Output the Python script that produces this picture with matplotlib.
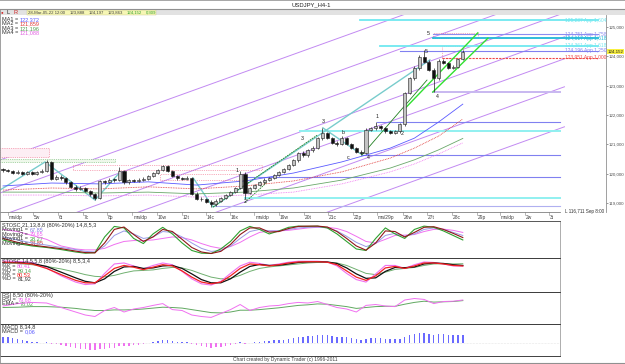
import matplotlib
matplotlib.use("Agg")
import matplotlib.pyplot as plt
import matplotlib.transforms as mtrans
from matplotlib.patches import Rectangle
from matplotlib.lines import Line2D
import numpy as np

plt.rcParams['font.family'] = ['Liberation Sans Narrow', 'Liberation Sans', 'DejaVu Sans']

# ---------------- data ----------------
O = [120.15,120.12,120.08,120.02,120.06,120.00,120.04,119.98,120.05,120.10,
     120.38,119.82,119.90,119.85,119.70,119.55,119.48,119.52,119.40,119.30,
     119.18,119.75,119.72,119.80,119.78,120.08,119.70,119.78,119.75,119.80,
     119.82,119.92,120.02,120.12,120.25,120.08,119.92,119.85,119.82,119.86,
     119.32,119.15,119.12,119.05,118.95,119.08,119.18,119.28,119.38,119.50,
     120.00,119.35,119.52,119.62,119.70,119.80,119.86,119.95,120.05,120.15,
     120.30,120.45,120.70,120.62,120.80,120.88,121.20,121.38,121.22,121.05,
     121.00,121.22,121.02,120.88,120.75,120.70,121.50,121.55,121.62,121.55,
     121.45,121.40,121.45,121.68,122.75,123.25,123.60,123.98,123.82,123.55,
     123.25,123.85,123.78,123.60,123.65,123.90]
C = [120.12,120.08,120.02,120.06,120.00,120.04,119.98,120.05,120.10,120.38,
     119.82,119.90,119.85,119.70,119.55,119.48,119.52,119.40,119.30,119.18,
     119.75,119.72,119.80,119.78,120.08,119.70,119.78,119.75,119.80,119.82,
     119.92,120.02,120.12,120.25,120.08,119.92,119.85,119.82,119.86,119.32,
     119.15,119.12,119.05,118.95,119.08,119.18,119.28,119.38,119.50,120.00,
     119.35,119.52,119.62,119.70,119.80,119.86,119.95,120.05,120.15,120.30,
     120.45,120.70,120.62,120.80,120.88,121.20,121.38,121.22,121.05,121.00,
     121.22,121.02,120.88,120.75,120.70,121.50,121.55,121.62,121.55,121.45,
     121.40,121.45,121.68,122.75,123.25,123.60,123.98,123.82,123.55,123.25,
     123.85,123.78,123.60,123.65,123.90,124.15]
Hi = [120.20,120.16,120.12,120.12,120.10,120.08,120.08,120.10,120.16,120.47,
      120.42,119.96,119.95,119.88,119.74,119.60,119.58,119.56,119.44,119.34,
      119.80,119.80,119.84,119.86,120.22,120.12,119.82,119.82,119.84,119.88,
      119.96,120.06,120.16,120.30,120.28,120.12,119.96,119.90,119.92,119.90,
      119.36,119.20,119.16,119.10,119.12,119.22,119.32,119.42,119.56,120.08,
      120.04,119.56,119.66,119.74,119.84,119.90,119.99,120.09,120.19,120.34,
      120.50,120.75,120.76,120.85,120.94,121.25,121.55,121.42,121.26,121.10,
      121.28,121.26,121.06,120.92,120.80,121.55,121.60,121.75,121.66,121.58,
      121.50,121.50,121.72,122.80,123.30,123.66,124.05,124.22,123.86,123.60,
      123.90,123.92,123.82,123.70,123.95,124.20]
Lo = [120.07,120.04,119.98,119.99,119.96,119.97,119.94,119.95,120.02,120.06,
      119.78,119.78,119.80,119.64,119.50,119.42,119.44,119.36,119.24,119.10,
      119.14,119.66,119.68,119.72,119.74,119.64,119.66,119.70,119.72,119.76,
      119.78,119.88,119.98,120.08,120.04,119.88,119.80,119.78,119.78,119.28,
      119.10,119.06,119.00,118.86,118.90,119.04,119.14,119.24,119.34,119.46,
      119.12,119.30,119.48,119.58,119.66,119.76,119.82,119.91,120.01,120.11,
      120.26,120.40,120.58,120.58,120.75,120.84,121.15,121.18,121.00,120.95,
      120.96,120.98,120.84,120.70,120.62,120.66,121.45,121.50,121.50,121.40,
      121.36,121.36,121.40,121.64,122.70,123.20,123.55,123.78,123.50,122.78,
      123.20,123.74,123.56,123.56,123.60,123.86]

# moving averages (sampled at bars)
ma_bars = [0, 10, 20, 30, 40, 50, 60, 70, 80, 85, 90, 95]
ma1 = [119.58,119.68,119.65,119.72,119.61,119.75,120.02,120.40,120.87,121.21,121.76,122.37]
ma2 = [119.44,119.51,119.48,119.55,119.48,119.58,119.75,120.06,120.53,120.87,121.28,121.86]
ma3 = [119.37,119.37,119.34,119.37,119.31,119.37,119.51,119.78,120.19,120.47,120.81,121.20]
ma4 = [119.27,119.27,119.24,119.27,119.20,119.27,119.37,119.65,120.06,120.33,120.67,121.05]

# parallel channel lines: price at bar -1 and at bar 116
chan_p0 = [120.443,119.318,118.534,117.716,116.965,116.011,114.647]
chan_p1 = [127.393,126.268,125.484,124.666,123.916,122.961,121.597]

# projection levels
proj_price = [125.237, 124.751, 124.617, 124.361, 124.196, 123.951]
proj_start = [73.8, 88.8, 88.8, 77.9, 82.0, 90.7]
proj_label = ["125,237 App 1,604", "124,751 App 1,758", "124,617 App 1,618",
              "124,361 App 1,618", "124,196 App 1,250", "123,951 App 1,000"]
proj_color = ["#70e8f0", "#8c8cf0", "#20b8d8", "#70e8f0", "#8080f0", "#f04848"]

# support levels
lvl_price = [122.78, 121.76, 121.45, 120.64, 119.89, 119.17, 118.90]
lvl_start = [88.8, 77.3, 61.4, 74.2, 50.0, 50.0, 43.4]
lvl_color = ["#c8b8f0", "#8080f0", "#90f0f0", "#8080f0", "#8080f0", "#90f0f0", "#b0b0f0"]

# swing labels
sw_bar = [48.3, 50.0, 61.8, 66.1, 70.2, 71.3, 75.4, 77.3, 82.4, 87.8, 87.4, 89.7]
sw_price = [120.10, 119.06, 121.20, 121.78, 121.40, 120.56, 120.56, 121.95, 121.36, 124.78, 124.17, 122.62]
sw_text = ["1", "2", "3", "3", "b", "c", "4", "1", "2", "5", "5", "4"]

# date axis
date_pos = [1.0, 6.2, 11.4, 16.5, 21.5, 26.7, 31.8, 37.0, 41.9, 46.9, 51.9, 57.0,
            62.2, 67.1, 72.3, 77.3, 82.6, 87.6, 92.8, 97.9, 102.7, 107.9, 112.8]
date_lab = ["ma/dp", "5w", "6t", "7c", "8p", "ma/dp", "10w", "12t", "14c", "16x", "ma/dp",
            "19w", "20t", "21c", "22p", "ma/29p", "26w", "27t", "28c", "29p", "ma/dp", "2w", "3t"]

price_ticks = [119, 120, 121, 122, 123, 124, 125]

# toolbar fields
bar_fields = ["28-Mar-05-22 12:00", "123,888", "124,197", "123,863", "124,152", "0,309"]

# oscillators sampled at bars
s_bars = [0,3,6,9,12,15,17,19,21,23,25,27,29,31,33,35,37,39,41,43,45,47,49,51,53,
          55,57,59,61,63,65,67,69,71,73,75,77,79,81,83,85,87,89,91,93,95]
st_green = [50,38,30,25,18,10, 6,8,60,95,90,55,38,70,92,70,40,15,6,5,
            20,45,80,95,85,70,80,92,96,95, 96,90,70,45,20,15,55,90,70,55, 85,96,92,80,65,50]
st_red = [55,42,33,27,21,13, 8,7,40,85,93,68,45,60,85,78,52,25,10,5,
          12,35,68,90,90,76,78,88,95,96, 96,93,78,55,30,16,40,80,78,60, 75,92,94,85,72,58]
st_lav = [60,50,40,33,25,18, 12,10,30,65,80,70,55,60,78,75,60,40,22,12,
          15,30,55,78,85,80,80,85,90,92, 93,90,80,62,42,28,38,65,72,62, 70,85,90,85,75,65]
st_mag = [85,78,65,52,30,20, 17,17,22,35,45,48,48,50,55,60,58,50,38,28,
          22,28,42,60,75,80,80,82,86,90, 92,92,88,78,62,45,40,52,65,66, 68,78,85,86,82,75]

k_red = [95,93,88,70,45,22, 12,12,40,70,82,75,65,75,85,80,60,35,15,8,
         15,40,70,88,85,80,85,92,96,97, 97,95,85,60,35,22,40,72,78,70, 80,92,92,88,82,80]
d_blk = [92,94,90,78,55,32, 18,12,28,58,76,78,70,72,80,82,70,48,25,12,
         12,28,55,78,86,82,83,88,94,96, 97,96,90,72,48,30,32,58,74,73, 76,88,92,90,85,82]
k_pink = [100,98,95,72,40,15, 5,8,50,88,92,80,68,82,92,85,58,28,8,3,
          18,50,80,95,90,82,88,95,99,99, 99,96,80,50,25,15,48,82,82,70, 85,96,94,88,80,80]
d_grn = [95,90,85,78,68,55, 45,38,36,42,52,60,62,64,70,74,72,62,48,35,
         28,30,42,58,70,76,80,84,88,92, 94,95,92,82,66,50,45,55,66,70, 74,82,88,89,88,89]

rsi = [60,68,72,70,55,40, 30,25,45,55,40,50,55,62,68,48,45,30,25,22,
       35,48,65,45,55,60,62,68,72,70, 75,65,55,50,40,62,65,60,58,80, 85,82,68,75,76,80]
rsi_ema = [55,56,58,58,56,52, 48,45,45,47,47,48,50,53,56,55,53,48,43,38,
           37,40,46,46,48,51,54,58,62,64, 67,66,62,58,52,55,58,59,59,66, 72,76,73,74,75,78]

macd = [0.45,0.40,0.35,0.30,0.22,0.15,0.10,0.05,0.02,0.05,
        -0.05,-0.10,-0.15,-0.20,-0.28,-0.35,-0.40,-0.45,-0.50,-0.52,
        -0.45,-0.42,-0.38,-0.35,-0.20,-0.25,-0.22,-0.18,-0.12,-0.05,
        0.02,0.08,0.15,0.22,0.20,0.15,0.10,0.08,0.05,-0.08,
        -0.18,-0.25,-0.30,-0.35,-0.32,-0.28,-0.22,-0.15,-0.08,0.05,
        -0.05,0.00,0.05,0.08,0.12,0.15,0.18,0.22,0.25,0.30,
        0.35,0.42,0.45,0.48,0.50,0.55,0.58,0.55,0.50,0.45,
        0.45,0.40,0.35,0.28,0.22,0.30,0.33,0.35,0.33,0.30,
        0.28,0.28,0.32,0.45,0.55,0.62,0.70,0.72,0.68,0.60,
        0.65,0.63,0.58,0.55,0.56,0.60]

# ---------------- figure ----------------
W, H = 625, 364
FS = 4.0
fig = plt.figure(figsize=(W / 100, H / 100), dpi=100)
fig.patch.set_facecolor("white")


def add_ax(x0, y0, x1, y1):
    return fig.add_axes([x0 / W, 1 - y1 / H, (x1 - x0) / W, (y1 - y0) / H])


def ftext(x, y, s, **kw):
    kw.setdefault("fontsize", FS)
    kw.setdefault("va", "center")
    kw.setdefault("ha", "left")
    return fig.text(x / W, 1 - y / H, s, **kw)


def fline(x0, y0, x1, y1, **kw):
    fig.add_artist(Line2D([x0 / W, x1 / W], [1 - y0 / H, 1 - y1 / H],
                          transform=fig.transFigure, **kw))


def frect(x0, y0, x1, y1, **kw):
    fig.add_artist(Rectangle((x0 / W, 1 - y1 / H), (x1 - x0) / W, (y1 - y0) / H,
                             transform=fig.transFigure, **kw))


X0 = -3 / 4.84
ax = add_ax(0, 15, 606, 212)


def after(t, s, color, gap=1.5, fs=FS):
    return ax.annotate(s, xy=(1, 0.5), xycoords=t, xytext=(gap, 0), textcoords="offset pixels",
                       fontsize=fs, color=color, va="center", ha="left", annotation_clip=False)


# title bar / toolbar
frect(0, 0, 625, 1.3, fc="#a8a8a8", ec="none")
ftext(311, 5.0, "USDJPY_H4-1", ha="center", color="#202020", fontsize=4.2)
fline(0, 9.3, 625, 9.3, color="#909090", lw=0.8)
frect(0, 9.8, 625, 15.2, fc="#e2e2e2", ec="none")
ftext(0.8, 12.5, "\u25cf", color="#d02020", fontsize=3.2)
ftext(6.5, 12.5, "L", color="#202020")
ftext(13.5, 12.5, "R", color="#d02020")
frect(27, 10.2, 156, 14.8, fc="#f6f6b4", ec="#c8c890", lw=0.3)
field_x = [28.5, 70, 89, 108, 127, 146]
field_cols = ["#404040", "#404040", "#404040", "#404040", "#30a030", "#30a030"]
for xx, s, col in zip(field_x, bar_fields, field_cols):
    ftext(xx, 12.5, s, color=col, fontsize=3.1)

# ---------------- main panel ----------------
ax.set_xlim(X0, (606 - 3) / 4.84)
ax.set_ylim(118.692, 125.409)
for s in ["top", "left", "bottom"]:
    ax.spines[s].set_visible(False)
ax.spines["right"].set_color("#909090")
ax.spines["right"].set_linewidth(0.6)
ax.set_xticks([])
ax.yaxis.tick_right()
ax.set_yticks(price_ticks)
ax.set_yticklabels(["%d,000" % p for p in price_ticks])
ax.tick_params(axis="y", labelsize=3.2, colors="#505050", length=1.2, width=0.4, pad=0.5)
bl = mtrans.blended_transform_factory(ax.transData, ax.transAxes)

# channel lines
for p0, p1 in zip(chan_p0, chan_p1):
    ax.plot([-1, 116], [p0, p1], color="#c28af2", lw=0.7, zorder=1)

# dashed boxes
ax.add_patch(Rectangle((X0, 120.57), 9.5 - X0, 0.30, fc="#fdeef4", ec="#f06080", lw=0.5, ls=":", zorder=1))
ax.add_patch(Rectangle((X0, 120.40), 23.1 - X0, 0.10, fc="#eef8ea", ec="#60b060", lw=0.5, ls=":", zorder=1))
ax.add_patch(Rectangle((14.5, 120.12), 39.0, 0.17, fc="none", ec="#f06080", lw=0.5, ls=":", zorder=1))
ax.add_patch(Rectangle((32.4, 119.78), 17.6, 0.21, fc="none", ec="#f06080", lw=0.5, ls=":", zorder=1))
ax.add_patch(Rectangle((88.8, 124.64), 9.3, 0.17, fc="none", ec="#f06080", lw=0.5, ls=":", zorder=1))
ax.add_patch(Rectangle((90.7, 123.93), 4.3, 0.41, fc="none", ec="#f06080", lw=0.5, ls=":", zorder=1))

# support levels
for p, b0, col in zip(lvl_price, lvl_start, lvl_color):
    lw = 1.4 if col in ("#c8b8f0", "#90f0f0") else 0.8
    ax.plot([b0, 115.1], [p, p], color=col, lw=lw, zorder=1.5)

# projection levels
for p, b0, lab, col in zip(proj_price, proj_start, proj_label, proj_color):
    ls = (0, (2, 1)) if col == "#f04848" else "-"
    lw = 1.3 if col in ("#70e8f0", "#20b8d8") else 0.8
    ax.plot([b0, 122.9], [p, p], color=col, lw=lw, ls=ls, zorder=1.5)
    ax.text(116.2, p, lab, fontsize=3.5, color=col, va="center", ha="left", zorder=3)

# zigzag (teal)
ax.plot([X0, 8.7, 19.0, 23.8], [119.44, 120.40, 119.10, 119.98], color="#78cccc", lw=1.0, zorder=2)
ax.plot([39.3, 43.4, 88.2], [119.85, 118.86, 123.88], color="#78cccc", lw=1.0, zorder=2)
ax.plot([66.1, 74.2], [121.56, 120.64], color="#78cccc", lw=1.0, zorder=2)
# green trend lines
ax.plot([88.8, 100.2], [122.78, 124.62], color="#30e030", lw=1.0, zorder=2)
ax.plot([83.1, 98.1], [122.23, 124.80], color="#30e030", lw=1.0, zorder=2)
ax.plot([74.2, 87.6], [120.64, 123.19], color="#208020", lw=0.6, zorder=2)
ax.plot([43.4, 64.9], [118.86, 121.31], color="#208020", lw=0.6, ls=(0, (2, 1)), zorder=2)
ax.plot([50.0, 54.5], [119.02, 119.70], color="#208020", lw=0.6, ls=(0, (2, 1)), zorder=2)

# moving averages
ax.plot(ma_bars, ma1, color="#5a5aff", lw=0.6, zorder=2)
ax.plot(ma_bars, ma2, color="#e03838", lw=0.6, ls=(0, (1, 1)), zorder=2)
ax.plot(ma_bars, ma3, color="#6aa86a", lw=0.6, zorder=2)
ax.plot(ma_bars, ma4, color="#f078f0", lw=0.6, ls=(0, (1, 1)), zorder=2)

# candles
xb = np.arange(len(C))
Oa, Ca = np.array(O), np.array(C)
ax.vlines(xb, Lo, Hi, color="#202020", lw=0.5, zorder=4)
body = Ca - Oa
body = np.where(np.abs(body) < 0.02, 0.02, body)
cols = np.where(Ca >= Oa, "#c4c4c4", "#101010")
ax.bar(xb, body, bottom=Oa, width=0.62, color=cols, edgecolor="#202020", linewidth=0.4, zorder=5)

# swing labels
for b, p, t in zip(sw_bar, sw_price, sw_text):
    ax.text(b, p, t, fontsize=3.8, color="#202020", ha="center", va="center", zorder=6)

# last price box
blr = mtrans.blended_transform_factory(ax.transAxes, ax.transData)
ax.text(1.0025, C[-1], "124,152", transform=blr, fontsize=3.2, color="#202020", va="center",
        ha="left", bbox=dict(boxstyle="square,pad=0.1", fc="#f8f040", ec="none"), zorder=7)

# date axis
ax.plot([X0, 115.1], [0, 0], transform=bl, color="#808080", lw=0.6, clip_on=False)
for pos, lab in zip(date_pos, date_lab):
    ax.plot([pos, pos], [0, -0.015], transform=bl, color="#808080", lw=0.4, clip_on=False)
    ax.annotate(lab, xy=(pos, 0), xycoords=bl, xytext=(1, -5), textcoords="offset pixels",
                fontsize=3.5, color="#404040", ha="left", va="center", annotation_clip=False)
ftext(565, 211.5, "L 116,711 Sep 8:00", color="#303030", fontsize=3.3)

# MA labels
for yy, name, val, col in [(19.3, "MA1 =", "122,372", "#5a5aff"), (23.8, "MA2 =", "121,859", "#e03838"),
                           (28.3, "MA3 =", "121,196", "#50a050"), (32.8, "MA4 =", "121,088", "#e060e0")]:
    t = ftext(2, yy, name, color="#303030")
    after(t, val, col)


# ---------------- indicator panels ----------------
def panel(y0, y1, ylim):
    a = add_ax(0, y0, 560, y1)
    a.set_xlim(X0, (560 - 3) / 4.84)
    a.set_ylim(*ylim)
    a.set_xticks([])
    a.set_yticks([])
    for s in ["top", "bottom"]:
        a.spines[s].set_color("#404040")
        a.spines[s].set_linewidth(0.7)
    for s in ["left", "right"]:
        a.spines[s].set_color("#a0a0a0")
        a.spines[s].set_linewidth(0.6)
    a.patch.set_alpha(0)
    return a


a1 = panel(221, 258, (-10, 113))
a1.plot(s_bars, st_mag, color="#f070f0", lw=0.7)
a1.plot(s_bars, st_lav, color="#9a9ae6", lw=0.7)
a1.plot(s_bars, st_green, color="#30a030", lw=0.8)
a1.plot(s_bars, st_red, color="#901818", lw=0.8)
ftext(2, 225, "STOSC 21,13,8,8 (80%-20%) 14,8,5,3", color="#303030")
for yy, name, val, col in [(229.5, "Moving1 =", "67,85", "#8080e0"), (234, "Moving2 =", "79,65", "#f060f0"),
                           (238.5, "Moving1 =", "28,27", "#30a030"), (243, "Moving2 =", "34,85", "#c03030")]:
    t = ftext(2, yy, name, color="#303030")
    after(t, val, col)

a2 = panel(258, 292, (-25, 112))
a2.plot(s_bars, d_grn, color="#70b070", lw=0.7)
a2.plot(s_bars, k_pink, color="#f070f0", lw=0.8)
a2.plot(s_bars, d_blk, color="#101010", lw=0.9)
a2.plot(s_bars, k_red, color="#f02020", lw=0.9)
ftext(2, 261.5, "STOSC 14,5,5,8 (80%-20%) 8,5,3,4", color="#303030")
for yy, name, val, col in [(266, "%K =", "80,41", "#f060f0"), (270.3, "%D =", "89,14", "#50a050"),
                           (274.6, "%K =", "80,53", "#f02020"), (278.9, "%D =", "81,92", "#303030")]:
    t = ftext(2, yy, name, color="#303030")
    after(t, val, col)

a3 = panel(292, 324, (0, 106.7))
a3.plot(s_bars, rsi_ema, color="#60a860", lw=0.7)
a3.plot(s_bars, rsi, color="#f070f0", lw=0.7)
ftext(2, 295, "RSI 8,50 (80%-20%)", color="#303030")
t = ftext(2, 299.5, "RSI =", color="#303030")
after(t, "79,68", "#f060f0")
t = ftext(2, 303.8, "EMA =", color="#303030")
after(t, "78,02", "#50a050")

a4 = panel(324, 356, (-0.94, 1.37))
mv = np.array(macd)
a4.bar(xb, mv, width=0.3, color=np.where(mv >= 0, "#6a6aff", "#f070f0"), linewidth=0)
a4.axhline(0, color="#d0d0d0", lw=0.4, ls=":")
ftext(2, 327, "MACD 8,34,8", color="#303030")
t = ftext(2, 331.5, "MACD =", color="#303030")
after(t, "0,06", "#5a5aff")

# footer and frame
ftext(285, 359.5, "Chart created by Dynamic Trader (c) 1996-2011", ha="center", color="#404040", fontsize=3.5)
fline(0, 363.2, 625, 363.2, color="#909090", lw=0.8)
fline(0.4, 9.5, 0.4, 363.5, color="#909090", lw=0.6)
fline(0, 221, 560, 221, color="#606060", lw=0.6)

fig.savefig("out.png", dpi=100, facecolor="white")
